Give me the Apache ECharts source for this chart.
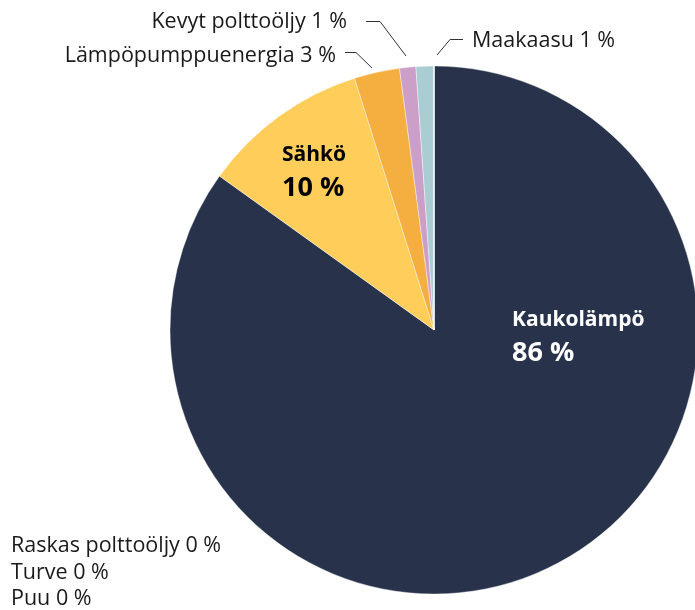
<!DOCTYPE html>
<html>
<head>
<meta charset="utf-8">
<script src="https://cdn.jsdelivr.net/npm/echarts@6/dist/echarts.min.js"></script>
<style>
html,body{margin:0;padding:0;background:#fff;}
#chart{width:695px;height:610px;}
</style>
</head>
<body>
<div id="chart"></div>
<script>
const categories = ['Kaukolämpö', 'Sähkö', 'Lämpöpumppuenergia', 'Kevyt polttoöljy', 'Maakaasu', 'Raskas polttoöljy', 'Turve', 'Puu'];
const values = [85.5, 10.3, 2.8, 1.0, 1.1, 0, 0, 0];
const colors = ['#28324b', '#fecd5a', '#f5ae40', '#cc9fc8', '#aacdd4', '#888888', '#888888', '#888888'];

const FONT = '"Open Sans", Lato, sans-serif';
const fmt = v => Math.round(v) + ' %';

// label placement (layout only)
const insideLabels = {
  0: {x: 512, y: 337, color: '#ffffff'},
  1: {x: 282, y: 172, color: '#000000'}
};
const outsideLabels = {
  2: {x: 336, y: 56, align: 'right', line: [[372, 68], [356, 52.5], [345, 52.5]]},
  3: {x: 347, y: 22, align: 'right', line: [[406, 56], [380, 21.5], [366, 21.5]]},
  4: {x: 472, y: 40.5, align: 'left', line: [[437, 55], [450, 39.5], [463, 39.5]]}
};
const zeroLabelPos = {x: 11, y: 549, step: 26.5};

const data = categories.map((name, i) => {
  const item = {name, value: values[i], itemStyle: {color: colors[i]}};
  if (insideLabels[i]) {
    item.label = {
      show: true, position: 'inside',
      formatter: p => '{n|' + p.name + '}\n{v|' + fmt(p.value) + '}',
      rich: {
        n: {fontFamily: FONT, fontWeight: 'bold', fontSize: 21, color: insideLabels[i].color, lineHeight: 32},
        v: {fontFamily: FONT, fontWeight: 'bold', fontSize: 27, color: insideLabels[i].color, lineHeight: 34}
      }
    };
    item.labelLine = {show: false};
  } else if (outsideLabels[i]) {
    item.label = {
      show: true, position: 'outside',
      formatter: p => p.name + ' ' + fmt(p.value),
      fontFamily: FONT, fontSize: 21.5, color: '#1a1a1a'
    };
    item.labelLine = {show: true, lineStyle: {color: '#333', width: 1}};
  } else {
    item.label = {show: false};
    item.labelLine = {show: false};
  }
  return item;
});

const zeroGraphics = [];
let zi = 0;
categories.forEach((name, i) => {
  if (values[i] === 0) {
    zeroGraphics.push({
      type: 'text', left: zeroLabelPos.x, top: zeroLabelPos.y + zi * zeroLabelPos.step - 14,
      style: {text: name + ' ' + fmt(values[i]), font: '21.5px ' + FONT, fill: '#1a1a1a'}
    });
    zi++;
  }
});

const chart = echarts.init(document.getElementById('chart'), null, {renderer: 'canvas'});
chart.setOption({
  animation: false,
  graphic: zeroGraphics,
  series: [{
    type: 'pie',
    center: [434, 330],
    radius: [0, 264],
    startAngle: 90,
    clockwise: true,
    avoidLabelOverlap: false,
    silent: true,
    emphasis: {disabled: true},
    itemStyle: {borderColor: '#ffffff', borderWidth: 0.4},
    data: data,
    labelLayout: function (params) {
      const i = params.dataIndex;
      if (insideLabels[i]) {
        return {x: insideLabels[i].x, y: insideLabels[i].y, align: 'left', verticalAlign: 'middle'};
      }
      if (outsideLabels[i]) {
        const o = outsideLabels[i];
        return {x: o.x, y: o.y, align: o.align, verticalAlign: 'middle', labelLinePoints: o.line};
      }
      return {};
    }
  }]
});
</script>
</body>
</html>
